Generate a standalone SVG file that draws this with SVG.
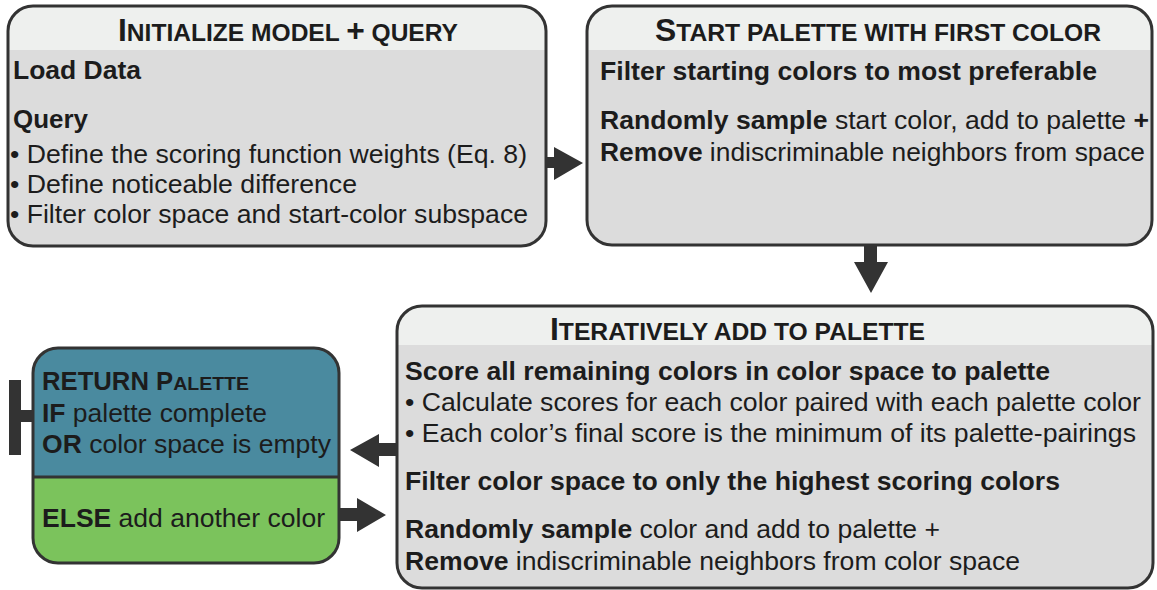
<svg xmlns="http://www.w3.org/2000/svg" width="1157" height="590" viewBox="0 0 1157 590">
<style>
text{font-family:"Liberation Sans",Arial,sans-serif;fill:#1c1c1c;font-size:25px}
.b{font-weight:bold}
.h{font-weight:bold;font-size:24px}
.H{font-size:31px}
.box{stroke:#333;stroke-width:3;fill:none}
.body{fill:#dcdcdc}
.head{fill:#eef0ee}
.arrow{fill:#333}
</style>
<rect width="1157" height="590" fill="#fff"/>
<g id="node-init">
<rect class="body" x="8" y="6" width="538" height="240" rx="25"/>
<path class="head" d="M8,50 V31 A25,25 0 0 1 33,6 H521 A25,25 0 0 1 546,31 V50 Z"/>
<rect class="box" x="8" y="6" width="538" height="240" rx="25"/>
<text class="h" x="118" y="41" textLength="340" lengthAdjust="spacingAndGlyphs"><tspan class="H">I</tspan>NITIALIZE MODEL <tspan class="H">+</tspan> QUERY</text>
<text class="b" x="13" y="79" textLength="128" lengthAdjust="spacingAndGlyphs">Load Data</text>
<text class="b" x="13" y="128" textLength="75" lengthAdjust="spacingAndGlyphs">Query</text>
<text x="10" y="163" textLength="517" lengthAdjust="spacingAndGlyphs">• Define the scoring function weights (Eq. 8)</text>
<text x="10" y="193" textLength="347" lengthAdjust="spacingAndGlyphs">• Define noticeable difference</text>
<text x="10" y="223" textLength="518" lengthAdjust="spacingAndGlyphs">• Filter color space and start-color subspace</text>
</g>
<g id="node-start">
<rect class="body" x="587" y="6" width="565" height="239" rx="25"/>
<path class="head" d="M587,50 V31 A25,25 0 0 1 612,6 H1127 A25,25 0 0 1 1152,31 V50 Z"/>
<rect class="box" x="587" y="6" width="565" height="239" rx="25"/>
<text class="h" x="655" y="41" textLength="446" lengthAdjust="spacingAndGlyphs"><tspan class="H">S</tspan>TART PALETTE WITH FIRST COLOR</text>
<text class="b" x="600" y="80" textLength="497" lengthAdjust="spacingAndGlyphs">Filter starting colors to most preferable</text>
<text x="600" y="129" textLength="549" lengthAdjust="spacingAndGlyphs"><tspan class="b">Randomly sample</tspan> start color, add to palette <tspan class="b">+</tspan></text>
<text x="600" y="161" textLength="545" lengthAdjust="spacingAndGlyphs"><tspan class="b">Remove</tspan> indiscriminable neighbors from space</text>
</g>
<g id="node-iter">
<rect class="body" x="397" y="306" width="756" height="282" rx="25"/>
<path class="head" d="M397,345 V331 A25,25 0 0 1 422,306 H1128 A25,25 0 0 1 1153,331 V345 Z"/>
<rect class="box" x="397" y="306" width="756" height="282" rx="25"/>
<text class="h" x="550" y="340" textLength="375" lengthAdjust="spacingAndGlyphs"><tspan class="H">I</tspan>TERATIVELY ADD TO PALETTE</text>
<text class="b" x="405" y="380" textLength="645" lengthAdjust="spacingAndGlyphs">Score all remaining colors in color space to palette</text>
<text x="405" y="411" textLength="736" lengthAdjust="spacingAndGlyphs">• Calculate scores for each color paired with each palette color</text>
<text x="405" y="442" textLength="731" lengthAdjust="spacingAndGlyphs">• Each color’s final score is the minimum of its palette-pairings</text>
<text class="b" x="405" y="490" textLength="655" lengthAdjust="spacingAndGlyphs">Filter color space to only the highest scoring colors</text>
<text x="405" y="538" textLength="535" lengthAdjust="spacingAndGlyphs"><tspan class="b">Randomly sample</tspan> color and add to palette +</text>
<text x="405" y="570" textLength="615" lengthAdjust="spacingAndGlyphs"><tspan class="b">Remove</tspan> indiscriminable neighbors from color space</text>
</g>
<g id="node-decision">
<path d="M33,477 V373 A25,25 0 0 1 58,348 H314 A25,25 0 0 1 339,373 V477 Z" fill="#4a8a9f"/>
<path d="M33,477 V538 A25,25 0 0 0 58,563 H314 A25,25 0 0 0 339,538 V477 Z" fill="#7bc35c"/>
<line x1="33" y1="477" x2="339" y2="477" stroke="#333" stroke-width="3"/>
<rect class="box" x="33" y="348" width="306" height="215" rx="25"/>
<text class="b" x="42" y="390" textLength="207" lengthAdjust="spacingAndGlyphs">RETURN P<tspan font-size="19">ALETTE</tspan></text>
<text x="42" y="422" textLength="225" lengthAdjust="spacingAndGlyphs"><tspan class="b">IF</tspan> palette complete</text>
<text x="42" y="453" textLength="289" lengthAdjust="spacingAndGlyphs"><tspan class="b">OR</tspan> color space is empty</text>
<text x="42" y="527" textLength="283" lengthAdjust="spacingAndGlyphs"><tspan class="b">ELSE</tspan> add another color</text>
</g>
<g id="connectors">
<path class="arrow" d="M546,157 H554 V147 L583,163 L554,180 V168 H546 Z"/>
<path class="arrow" d="M864,245 V262 H854 L871,293 L888,262 H877 V245 Z"/>
<path class="arrow" d="M397,443 H379 V434 L350,450 L379,467 V456 H397 Z"/>
<path class="arrow" d="M339,508 H357 V498 L386,515 L357,532 V521 H339 Z"/>
<path class="arrow" d="M9,380 H21 V410 H33 V422 H21 V455 H9 Z"/>
</g>
</svg>
